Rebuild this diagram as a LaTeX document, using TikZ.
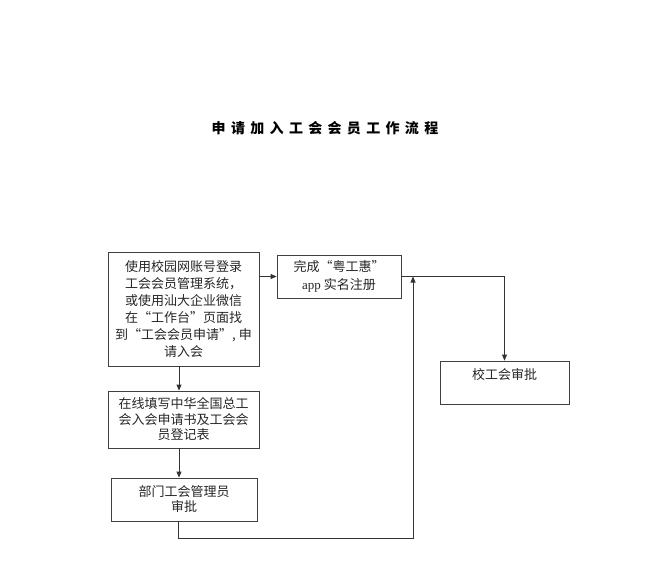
\documentclass[tikz,border=0pt]{standalone}
\usepackage{fontspec}
\setmainfont{Liberation Serif}
\newfontfamily\cjk{Noto Sans CJK SC}
\newfontfamily\titlefont[LetterSpace=38]{Noto Sans CJK SC}
\usetikzlibrary{arrows.meta}

\begin{document}
\begin{tikzpicture}[x=1pt,y=-1pt,
    flowbox/.style={draw=black!75, line width=0.8pt, align=center, inner sep=0pt, text=black!85, font=\cjk\fontsize{13}{16.5}\selectfont},
    flowline/.style={draw=black!80, line width=0.8pt, -{Triangle[length=6pt,width=5pt]}}]
    \useasboundingbox (0,0) rectangle (652,572);
    \node (title) at (325,128) {\titlefont\bfseries\fontsize{14}{16}\selectfont 申请加入工会会员工作流程};
    \node [flowbox, minimum width=151, minimum height=114, font=\cjk\fontsize{13}{17}\selectfont] (login) at (183.5,309) {使用校园网账号登录\\工会会员管理系统，\\或使用汕大企业微信\\在“工作台”页面找\\到“工会会员申请”, 申\\请入会};
    \node [flowbox, minimum width=124, minimum height=43, font=\cjk\fontsize{13}{18}\selectfont] (app) at (339,276.5) {完成“粤工惠”\\{\rmfamily app} 实名注册};
    \node [flowbox, minimum width=151, minimum height=57, font=\cjk\fontsize{13}{15.5}\selectfont] (form) at (183.5,419.5) {在线填写中华全国总工\\会入会申请书及工会会\\员登记表};
    \node [flowbox, minimum width=146, minimum height=43, font=\cjk\fontsize{13}{15}\selectfont] (dept) at (184,499.5) {部门工会管理员\\审批};
    \node [flowbox, minimum width=129, minimum height=43, text height=10pt, text depth=16pt] (school) at (504.5,382.5) {校工会审批};
    \coordinate (turn) at (413,538);
    \draw [flowline] (login.east |- app.west) -- (app.west);
    \draw [flowline] (app.east) -| (school.north);
    \draw [flowline] ([xshift=-4.5]login.south) -- ([xshift=-4.5]login.south |- form.north);
    \draw [flowline] ([xshift=-4.5]form.south) -- ([xshift=-4.5]form.south |- dept.north);
    \draw [flowline] ([xshift=-6]dept.south) |- (turn) -- (turn |- app.east);
\end{tikzpicture}
\end{document}
